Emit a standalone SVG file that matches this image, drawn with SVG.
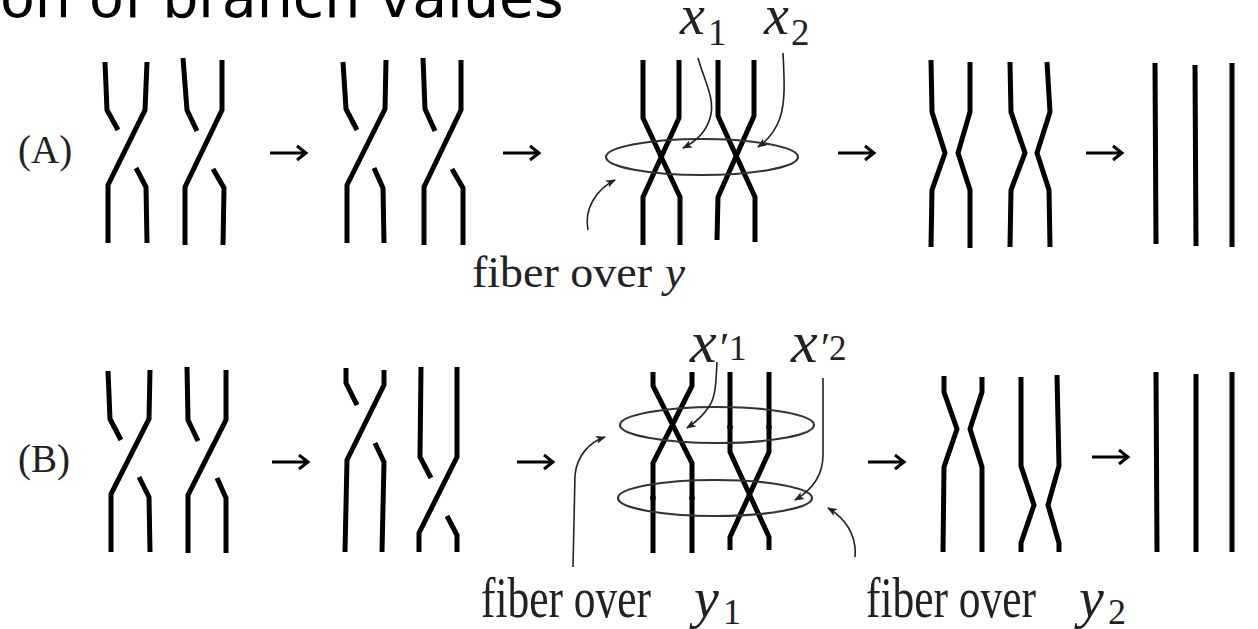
<svg xmlns="http://www.w3.org/2000/svg" width="1258" height="629" viewBox="0 0 1258 629">
<defs>
<style>
.s{fill:none;stroke:#000;stroke-width:5;stroke-linejoin:miter}
.e{fill:none;stroke:#333;stroke-width:2.2}
.l{fill:none;stroke:#222;stroke-width:1.6}
.ar{fill:none;stroke:#000;stroke-width:3}
.t{font-family:"Liberation Serif","Times New Roman",serif;fill:#222}
.i{font-style:italic}
.ti{font-family:"DejaVu Sans",Verdana,sans-serif;fill:#000}
</style>
<marker id="ah" viewBox="0 0 10 8" refX="9" refY="4" markerWidth="10" markerHeight="8" markerUnits="userSpaceOnUse" orient="auto">
<path d="M0,0 L10,4 L0,8 L2.5,4 z" fill="#222"/>
</marker>
</defs>
<rect width="1258" height="629" fill="#fff"/>
<g id="title"><text class="ti" x="0" y="17" font-size="57">on of branch values</text></g>
<g id="label-A"><text class="t" x="18" y="163" font-size="39">(A)</text></g>
<g id="label-B"><text class="t" x="18" y="472" font-size="39">(B)</text></g>

<g id="braid-A1">
<polyline class="s" points="105,62 107,110 118,130"/>
<polyline class="s" points="147,62 145,110 108,185 108,243"/>
<polyline class="s" points="136,168 146,187 147,243"/>
<polyline class="s" points="183,58 187,110 197,131"/>
<polyline class="s" points="222,60 222,110 185,187 185,245"/>
<polyline class="s" points="213,169 224,188 223,245"/>
</g>
<g id="braid-A2">
<polyline class="s" points="343,62 346,109 357,130"/>
<polyline class="s" points="386,60 385,109 347,185 347,243"/>
<polyline class="s" points="374,168 383,188 384,243"/>
<polyline class="s" points="423,58 425,109 435,131"/>
<polyline class="s" points="461,60 461,110 424,187 424,245"/>
<polyline class="s" points="452,169 463,188 463,245"/>
</g>
<g id="braid-A3">
<polyline class="s" points="643,60 643,118 680,197 680,245"/>
<polyline class="s" points="679,60 679,118 643,197 643,245"/>
<polyline class="s" points="718,60 718,116 755,197 755,242"/>
<polyline class="s" points="754,60 754,116 718,197 717,240"/>
<ellipse class="e" cx="702" cy="157" rx="96" ry="18"/>
</g>
<g id="braid-A4">
<polyline class="s" points="931,60 932,112 945,153 932,190 931,247"/>
<polyline class="s" points="970,62 970,112 958,153 970,190 970,248"/>
<polyline class="s" points="1010,62 1011,112 1025,153 1011,190 1010,247"/>
<polyline class="s" points="1047,62 1050,112 1037,153 1049,190 1050,247"/>
</g>
<g id="braid-A5">
<line class="s" x1="1155" y1="63" x2="1156" y2="244"/>
<line class="s" x1="1195" y1="65" x2="1196" y2="246"/>
<line class="s" x1="1232" y1="63" x2="1232" y2="247"/>
</g>

<g id="braid-B1">
<polyline class="s" points="108,371 110,419 121,440"/>
<polyline class="s" points="150,370 149,419 111,494 111,552"/>
<polyline class="s" points="139,477 149,497 150,552"/>
<polyline class="s" points="187,367 188,420 198,441"/>
<polyline class="s" points="226,370 226,420 188,495 188,553"/>
<polyline class="s" points="217,478 226,498 226,553"/>
</g>
<g id="braid-B2">
<polyline class="s" points="346,368 346,383 357,405"/>
<polyline class="s" points="384,370 384,385 347,460 345,552"/>
<polyline class="s" points="375,443 384,462 382,552"/>
<polyline class="s" points="421,367 420,457 431,478"/>
<polyline class="s" points="457,367 457,457 419,533 419,552"/>
<polyline class="s" points="447,516 457,535 457,552"/>
</g>
<g id="braid-B3">
<polyline class="s" points="653,372 653,386 692,463 692,553"/>
<polyline class="s" points="692,372 692,386 653,463 653,553"/>
<polyline class="s" points="730,372 730,452 769,537 769,550"/>
<polyline class="s" points="769,372 769,452 730,537 730,550"/>
<ellipse class="e" cx="717" cy="425" rx="97" ry="18"/>
<ellipse class="e" cx="715" cy="498" rx="97" ry="18"/>
<circle cx="730" cy="427" r="2.8"/>
<circle cx="769" cy="427" r="2.8"/>
<circle cx="653" cy="498" r="2.8"/>
<circle cx="692" cy="498" r="2.8"/>
</g>
<g id="braid-B4">
<polyline class="s" points="944,376 944,392 957,429 944,467 943,552"/>
<polyline class="s" points="982,377 982,392 970,429 982,467 982,552"/>
<polyline class="s" points="1021,377 1021,466 1034,505 1021,543 1021,552"/>
<polyline class="s" points="1057,375 1059,466 1048,505 1059,543 1059,552"/>
</g>
<g id="braid-B5">
<line class="s" x1="1156" y1="372" x2="1157" y2="552"/>
<line class="s" x1="1196" y1="374" x2="1196" y2="552"/>
<line class="s" x1="1232" y1="372" x2="1232" y2="552"/>
</g>

<g id="labels">
<text class="t" y="34" font-size="56"><tspan class="i" x="680">x</tspan><tspan x="708" y="45" font-size="37">1</tspan></text>
<text class="t" y="34" font-size="56"><tspan class="i" x="764">x</tspan><tspan x="791" y="45" font-size="37">2</tspan></text>
<text class="t" x="472" y="287" font-size="45" textLength="180" lengthAdjust="spacingAndGlyphs">fiber over</text>
<text class="t i" x="665" y="287" font-size="45">y</text>
<text class="t" y="362" font-size="60"><tspan class="i" x="690">x</tspan><tspan x="720" font-size="42">′</tspan><tspan x="729" y="360" font-size="35">1</tspan></text>
<text class="t" y="362" font-size="60"><tspan class="i" x="791">x</tspan><tspan x="821" font-size="42">′</tspan><tspan x="829" y="360" font-size="35">2</tspan></text>
<text class="t" x="481" y="617" font-size="56" textLength="170" lengthAdjust="spacingAndGlyphs">fiber over</text>
<text class="t" y="617" font-size="56"><tspan class="i" x="694">y</tspan><tspan x="723" y="624" font-size="36">1</tspan></text>
<text class="t" x="866" y="617" font-size="56" textLength="170" lengthAdjust="spacingAndGlyphs">fiber over</text>
<text class="t" y="617" font-size="56"><tspan class="i" x="1079">y</tspan><tspan x="1108" y="624" font-size="36">2</tspan></text>
</g>

<g id="connectors">
<g class="ar">
<path d="M270,153 H306 M297,146 L306,153 L297,160"/>
<path d="M503,153 H539 M530,146 L539,153 L530,160"/>
<path d="M838,153 H874 M865,146 L874,153 L865,160"/>
<path d="M1086,153 H1122 M1113,146 L1122,153 L1113,160"/>
<path d="M272,462 H308 M299,455 L308,462 L299,469"/>
<path d="M517,462 H553 M544,455 L553,462 L544,469"/>
<path d="M868,462 H904 M895,455 L904,462 L895,469"/>
<path d="M1092,457 H1128 M1119,450 L1128,457 L1119,464"/>
</g>
<g class="l">
<path d="M698,58 C704,80 716,100 710,118 C706,132 695,142 683,148" marker-end="url(#ah)"/>
<path d="M783,53 C784,75 786,100 780,118 C775,132 768,140 758,147" marker-end="url(#ah)"/>
<path d="M588,230 C584,210 595,190 615,180" marker-end="url(#ah)"/>
<path d="M717,362 C716,380 716,395 710,405 C704,415 696,422 687,428" marker-end="url(#ah)"/>
<path d="M823,378 L823,455 C823,475 812,490 795,500" marker-end="url(#ah)"/>
<path d="M573,567 L575,475 C577,455 590,442 605,437" marker-end="url(#ah)"/>
<path d="M855,557 C857,535 845,518 828,508" marker-end="url(#ah)"/>
</g>
</g>
</svg>
